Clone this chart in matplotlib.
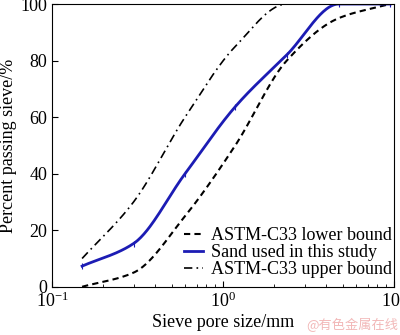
import matplotlib
matplotlib.use("Agg")
import matplotlib.pyplot as plt
import numpy as np

# sieve sizes (mm) and percent passing
sieve = [0.15, 0.3, 0.6, 1.18, 2.36, 4.75, 9.5]
lowerBound = [0, 5, 25, 50, 80, 95, 100]
sandUsed = [7.3, 15.3, 40, 63.7, 82, 100, 100]
upperBound = [10, 30, 60, 85, 100, 100, 100]


def pchip(x, y, xNew):
    # monotone cubic curve through the points (drawing only)
    x = np.asarray(x, float)
    y = np.asarray(y, float)
    h = np.diff(x)
    d = np.diff(y) / h
    m = np.zeros_like(y)
    for k in range(1, len(x) - 1):
        if d[k - 1] * d[k] > 0:
            w1 = 2 * h[k] + h[k - 1]
            w2 = h[k] + 2 * h[k - 1]
            m[k] = (w1 + w2) / (w1 / d[k - 1] + w2 / d[k])
    m[0] = d[0]
    m[-1] = d[-1] if d[-1] * d[-2] > 0 else 0
    out = np.empty_like(xNew)
    idx = np.clip(np.searchsorted(x, xNew) - 1, 0, len(x) - 2)
    for j, xv in enumerate(xNew):
        k = idx[j]
        t = (xv - x[k]) / h[k]
        h00 = 2 * t**3 - 3 * t**2 + 1
        h10 = t**3 - 2 * t**2 + t
        h01 = -2 * t**3 + 3 * t**2
        h11 = t**3 - t**2
        out[j] = h00 * y[k] + h10 * h[k] * m[k] + h01 * y[k + 1] + h11 * h[k] * m[k + 1]
    return out


def smooth(xs, ys):
    lx = np.log10(xs)
    fine = np.linspace(lx[0], lx[-1], 300)
    return 10 ** fine, pchip(lx, ys, fine)


plt.rcParams['font.family'] = ['Liberation Serif', 'DejaVu Serif']
plt.rcParams['mathtext.fontset'] = 'stix'

fig = plt.figure(figsize=(4.0, 3.35), dpi=100)
ax = fig.add_axes([0.13, 0.144, 0.855, 0.844])

xs, ys = smooth(sieve, lowerBound)
ax.plot(xs, ys, color='black', ls=(0, (3, 2)), lw=1.5, label='ASTM-C33 lower bound')
xs, ys = smooth(sieve, sandUsed)
ax.plot(xs, ys, color='#1c1cb4', lw=2.0, label='Sand used in this study')
ax.plot(sieve, sandUsed, ls='none', marker='|', ms=4, mew=0.8, color='#1c1cb4')
xs, ys = smooth(sieve, upperBound)
ax.plot(xs, ys, color='black', ls=(0, (5, 2.5, 1, 2.5)), lw=1.2, label='ASTM-C33 upper bound')

ax.set_xscale('log')
ax.set_xlim(0.1, 10)
ax.set_ylim(0, 100)
ax.set_yticks([0, 20, 40, 60, 80, 100])
ax.tick_params(which='both', direction='in', labelsize=13)
ax.tick_params(which='major', length=4)
ax.tick_params(which='minor', length=2.5)

ax.set_xlabel('Sieve pore size/mm', fontsize=13, labelpad=2)
ax.set_ylabel('Percent passing sieve/%', fontsize=13, labelpad=2)

ax.legend(loc='lower right', bbox_to_anchor=(1.03, -0.015), frameon=False, fontsize=13,
          handlelength=1.1, handletextpad=0.4, labelspacing=0.0, borderpad=0.2)

fig.text(0.995, 0.01, '@有色金属在线', color='#f2b8b8', fontsize=9.5, ha='right', va='bottom',
         family=['Noto Sans CJK SC', 'DejaVu Sans'])

fig.savefig('out.png', dpi=100)
